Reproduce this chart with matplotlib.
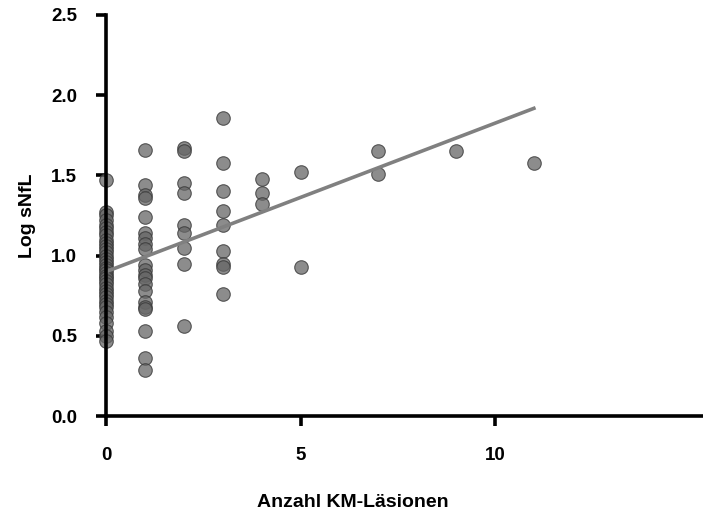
import numpy as np
import matplotlib
matplotlib.use('Agg')
import matplotlib.pyplot as plt

plt.rcParams['font.family'] = ['Liberation Sans', 'DejaVu Sans']
plt.rcParams['font.weight'] = 'bold'

# Anzahl KM-Läsionen -> Log sNfL Werte pro Gruppe
lesions = [0, 1, 2, 3, 4, 5, 7, 9, 11]
log_snfl = [
    [1.47, 1.27, 1.25, 1.22, 1.19, 1.17, 1.15, 1.13, 1.10, 1.08, 1.06, 1.04,
     1.02, 1.00, 0.98, 0.96, 0.94, 0.92, 0.91, 0.89, 0.87, 0.86, 0.84, 0.82,
     0.80, 0.78, 0.76, 0.74, 0.72, 0.70, 0.68, 0.65, 0.62, 0.58, 0.53, 0.50,
     0.47],
    [1.66, 1.44, 1.38, 1.36, 1.24, 1.14, 1.11, 1.07, 1.04, 0.94, 0.91, 0.88,
     0.86, 0.82, 0.78, 0.71, 0.68, 0.67, 0.53, 0.36, 0.29],
    [1.67, 1.65, 1.45, 1.39, 1.19, 1.14, 1.05, 0.95, 0.56],
    [1.86, 1.58, 1.40, 1.28, 1.19, 1.03, 0.95, 0.93, 0.76],
    [1.48, 1.39, 1.32],
    [1.52, 0.93],
    [1.65, 1.51],
    [1.65],
    [1.58],
]

# lineare Regression
intercept = 0.90
slope = 0.0925

x = np.concatenate([[k] * len(v) for k, v in zip(lesions, log_snfl)])
y = np.concatenate(log_snfl)

fig = plt.figure(figsize=(7.03, 5.13), dpi=100)
ax = fig.add_axes([0.151, 0.189, 0.849, 0.782])

ax.scatter(x, y, s=95, facecolor=(0.40, 0.40, 0.40, 0.75),
           edgecolor=(0.22, 0.22, 0.22, 0.8), linewidth=0.8, zorder=3,
           clip_on=False)

xl = np.array([0, max(lesions)])
ax.plot(xl, intercept + slope * xl, color='#808080', lw=2.6, zorder=4)

ax.set_xlim(0, 15.35)
ax.set_ylim(0, 2.5)
ax.set_xticks([0, 5, 10])
ax.set_yticks(np.arange(0, 2.51, 0.5))
ax.yaxis.set_major_formatter(matplotlib.ticker.FormatStrFormatter('%.1f'))

for s in ['top', 'right']:
    ax.spines[s].set_visible(False)
for s in ['left', 'bottom']:
    ax.spines[s].set_linewidth(2.6)
    ax.spines[s].set_zorder(5)
ax.tick_params(width=2.6, length=7, labelsize=13.5)
ax.tick_params(axis='y', pad=14)
ax.tick_params(axis='x', pad=15)

ax.set_xlabel('Anzahl KM-Läsionen', fontsize=14, fontweight='bold', va='center')
ax.xaxis.set_label_coords(0.414, -0.215)
ax.set_ylabel('Log sNfL', fontsize=14, fontweight='bold', va='center')
ax.yaxis.set_label_coords(-0.131, 0.5)

plt.savefig('out.png', dpi=100)
